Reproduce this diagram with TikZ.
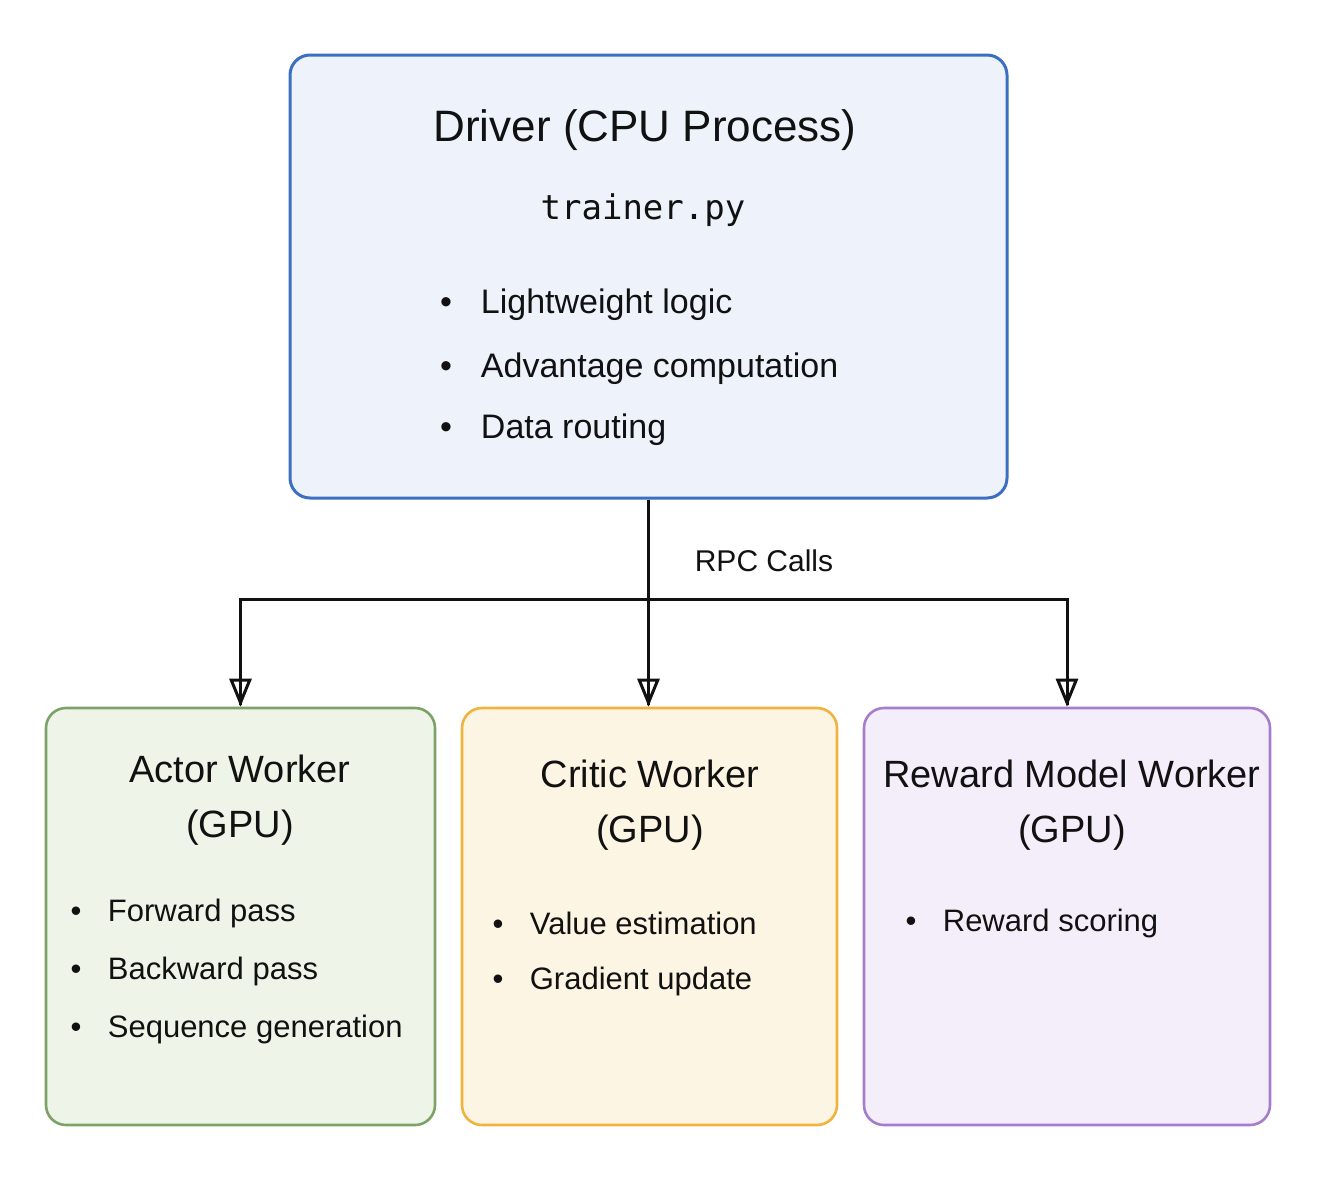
\documentclass[tikz,border=0pt]{standalone}
\usepackage{fontspec}
\setmainfont{Liberation Sans}
\setmonofont{DejaVu Sans Mono}
\definecolor{driverBlue}{HTML}{3B6FC2}
\definecolor{driverFill}{HTML}{EEF3FB}
\definecolor{actorGreen}{HTML}{7DA267}
\definecolor{actorFill}{HTML}{EEF5E8}
\definecolor{criticOrange}{HTML}{F1B23E}
\definecolor{criticFill}{HTML}{FDF5E4}
\definecolor{rewardPurple}{HTML}{A67DCD}
\definecolor{rewardFill}{HTML}{F4EEFB}
\definecolor{wireInk}{HTML}{111111}
\usetikzlibrary{arrows.meta, positioning}
\newcommand{\itm}[1]{\makebox[1.2em][l]{\textbullet}#1}

\begin{document}
\begin{tikzpicture}[
    x=1pt, y=-1pt,
    box/.style={
      rounded corners=20pt,
      line width=2.6pt,
      inner sep=0pt,
    },
    ttl/.style={font=\fontsize{44}{50}\selectfont, text=wireInk, align=center, inner sep=0pt},
    wttl/.style={font=\fontsize{38}{55}\selectfont, text=wireInk, align=center, inner sep=0pt},
    item/.style={font=\fontsize{34}{40}\selectfont, text=wireInk, anchor=west, inner sep=0pt},
    witem/.style={font=\fontsize{31}{36}\selectfont, text=wireInk, anchor=west, inner sep=0pt},
    arr/.style={-{Triangle[open, length=28pt, width=22pt, sep=-28pt]Rectangle[length=28pt, width=3pt]}, wireInk, line width=3pt},
  ]
    \useasboundingbox (0,0) rectangle (1323,1189);

    % Driver
    \node[box, draw=driverBlue, fill=driverFill, line width=3pt, minimum width=717, minimum height=443] (driver) at (648.5,276.5) {};
    \node[ttl] (drvttl) at (645,130) {Driver (CPU Process)};
    \node[ttl, font=\ttfamily\fontsize{34}{40}\selectfont] (drvfile) at (643,210) {trainer.py};
    \node[item] (drv1) at (440,305) {\itm{Lightweight logic}};
    \node[item] (drv2) at (440,369) {\itm{Advantage computation}};
    \node[item] (drv3) at (440,430) {\itm{Data routing}};

    % Workers
    \node[box, draw=actorGreen, fill=actorFill, minimum width=389, minimum height=417] (actor) at (240.5,916.5) {};
    \node[box, draw=criticOrange, fill=criticFill, minimum width=375, minimum height=417] (critic) at (649.5,916.5) {};
    \node[box, draw=rewardPurple, fill=rewardFill, minimum width=406, minimum height=417] (reward) at (1067,916.5) {};

    \node[wttl] (actttl) at (240,800) {Actor Worker\\(GPU)};
    \node[witem] (act1) at (70.5,913) {\itm{Forward pass}};
    \node[witem] (act2) at (70.5,971) {\itm{Backward pass}};
    \node[witem] (act3) at (70.5,1029) {\itm{Sequence generation}};

    \node[wttl] (critttl) at (650,805) {Critic Worker\\(GPU)};
    \node[witem] (crit1) at (492.5,923) {\itm{Value estimation}};
    \node[witem] (crit2) at (492.5,981) {\itm{Gradient update}};

    \node[wttl] (rewttl) at (1072,805) {Reward Model Worker\\(GPU)};
    \node[witem] (rew1) at (905.5,923) {\itm{Reward scoring}};

    % RPC fan-out
    \coordinate (split) at ([yshift=-100pt]driver.south);
    \node[font=\fontsize{30}{36}\selectfont, text=wireInk, inner sep=0pt] (rpc) at (764,561) {RPC Calls};
    \draw[arr] (driver.south) -- (driver.south |- critic.north);
    \draw[arr] (split) -| (actor.north);
    \draw[arr] (split) -| (reward.north);
\end{tikzpicture}
\end{document}
